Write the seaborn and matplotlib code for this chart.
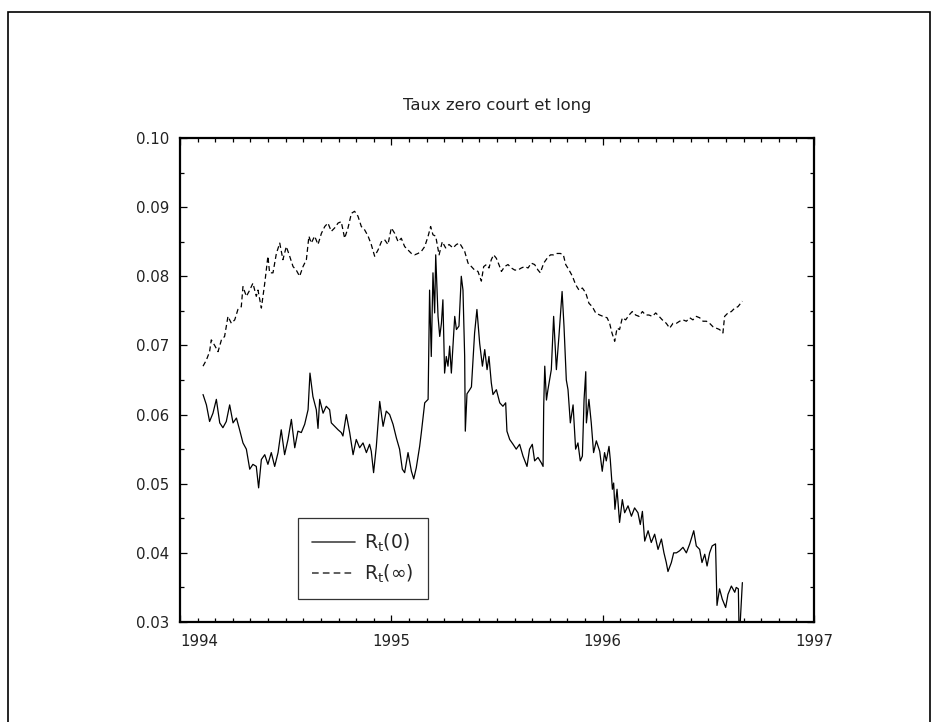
import numpy as np
import pandas as pd
import seaborn as sns
import matplotlib
matplotlib.use("Agg")
import matplotlib.pyplot as plt
from matplotlib.ticker import MultipleLocator, FormatStrFormatter
from matplotlib.patches import Rectangle

# Short rate R_t(0): dates in decimal years, rates
short_t = [
    1994.109, 1994.125, 1994.140, 1994.156, 1994.172, 1994.188, 1994.203, 1994.219,
    1994.235, 1994.251, 1994.267, 1994.282, 1994.298, 1994.314, 1994.330, 1994.345,
    1994.361, 1994.372, 1994.385, 1994.401, 1994.416, 1994.432, 1994.448, 1994.464,
    1994.479, 1994.495, 1994.511, 1994.527, 1994.543, 1994.558, 1994.574, 1994.590,
    1994.606, 1994.615, 1994.629, 1994.645, 1994.653, 1994.661, 1994.677, 1994.692,
    1994.708, 1994.716, 1994.732, 1994.748, 1994.763, 1994.771, 1994.787, 1994.803,
    1994.819, 1994.834, 1994.850, 1994.866, 1994.882, 1994.897, 1994.905, 1994.916,
    1994.929, 1994.945, 1994.961, 1994.976, 1994.992, 1995.008, 1995.024, 1995.039,
    1995.052, 1995.063, 1995.079, 1995.095, 1995.106, 1995.118, 1995.134, 1995.142,
    1995.158, 1995.174, 1995.181, 1995.189, 1995.197, 1995.205, 1995.210, 1995.221,
    1995.229, 1995.237, 1995.244, 1995.252, 1995.260, 1995.268, 1995.276, 1995.284,
    1995.300, 1995.308, 1995.320, 1995.331, 1995.339, 1995.347, 1995.350, 1995.358,
    1995.371, 1995.379, 1995.394, 1995.405, 1995.418, 1995.431, 1995.442, 1995.453,
    1995.462, 1995.473, 1995.481, 1995.497, 1995.513, 1995.528, 1995.541, 1995.547,
    1995.560, 1995.576, 1995.591, 1995.607, 1995.623, 1995.642, 1995.654, 1995.667,
    1995.678, 1995.694, 1995.710, 1995.718, 1995.721, 1995.726, 1995.734, 1995.741,
    1995.757, 1995.768, 1995.781, 1995.793, 1995.808, 1995.817, 1995.828, 1995.836,
    1995.847, 1995.860, 1995.872, 1995.883, 1995.894, 1995.904, 1995.912, 1995.920,
    1995.923, 1995.935, 1995.946, 1995.957, 1995.970, 1995.986, 1995.998, 1996.009,
    1996.017, 1996.030, 1996.036, 1996.046, 1996.052, 1996.058, 1996.068, 1996.080,
    1996.093, 1996.104, 1996.120, 1996.136, 1996.151, 1996.167, 1996.178, 1996.188,
    1996.199, 1996.215, 1996.230, 1996.246, 1996.262, 1996.278, 1996.290, 1996.301,
    1996.309, 1996.325, 1996.336, 1996.349, 1996.364, 1996.380, 1996.396, 1996.412,
    1996.431, 1996.443, 1996.459, 1996.470, 1996.483, 1996.494, 1996.506, 1996.518,
    1996.534, 1996.541, 1996.553, 1996.566, 1996.582, 1996.593, 1996.609, 1996.625,
    1996.632, 1996.642, 1996.645, 1996.651, 1996.661,
]
short_rate = [
    0.0629, 0.0614, 0.0590, 0.0602, 0.0622, 0.0588, 0.0581, 0.0590,
    0.0614, 0.0588, 0.0595, 0.0578, 0.0559, 0.0550, 0.0521, 0.0528,
    0.0525, 0.0494, 0.0535, 0.0542, 0.0528, 0.0545, 0.0525, 0.0545,
    0.0578, 0.0542, 0.0564, 0.0593, 0.0552, 0.0576, 0.0574, 0.0586,
    0.0607, 0.0660, 0.0626, 0.0607, 0.0580, 0.0622, 0.0602, 0.0612,
    0.0607, 0.0588, 0.0583, 0.0578, 0.0574, 0.0569, 0.0600, 0.0574,
    0.0542, 0.0564, 0.0552, 0.0559, 0.0545, 0.0557, 0.0547, 0.0516,
    0.0554, 0.0619, 0.0583, 0.0605, 0.0600, 0.0586, 0.0566, 0.0550,
    0.0521, 0.0516, 0.0545, 0.0518, 0.0507, 0.0523, 0.0554, 0.0574,
    0.0617, 0.0622, 0.0780, 0.0684, 0.0805, 0.0747, 0.0831, 0.0742,
    0.0713, 0.0732, 0.0766, 0.0660, 0.0684, 0.0670, 0.0699, 0.0660,
    0.0742, 0.0723, 0.0728, 0.0800, 0.0780, 0.0684, 0.0576, 0.0630,
    0.0636, 0.0640, 0.0718, 0.0752, 0.0703, 0.0670, 0.0694, 0.0665,
    0.0684, 0.0646, 0.0629, 0.0636, 0.0617, 0.0612, 0.0617, 0.0576,
    0.0564, 0.0557, 0.0550, 0.0557, 0.0540, 0.0525, 0.0550, 0.0557,
    0.0533, 0.0538, 0.0530, 0.0525, 0.0612, 0.0670, 0.0621, 0.0636,
    0.0665, 0.0742, 0.0665, 0.0713, 0.0778, 0.0728, 0.0650, 0.0636,
    0.0588, 0.0614, 0.0550, 0.0559, 0.0533, 0.0540, 0.0622, 0.0662,
    0.0588, 0.0622, 0.0588, 0.0545, 0.0562, 0.0547, 0.0518, 0.0545,
    0.0533, 0.0554, 0.0535, 0.0492, 0.0501, 0.0463, 0.0492, 0.0444,
    0.0477, 0.0458, 0.0468, 0.0453, 0.0465, 0.0458, 0.0441, 0.0460,
    0.0417, 0.0432, 0.0415, 0.0427, 0.0405, 0.0420, 0.0400, 0.0386,
    0.0373, 0.0386, 0.0400, 0.0400, 0.0403, 0.0408, 0.0400, 0.0413,
    0.0432, 0.0410, 0.0405, 0.0386, 0.0398, 0.0381, 0.0400, 0.0410,
    0.0413, 0.0324, 0.0348, 0.0333, 0.0321, 0.0340, 0.0352, 0.0343,
    0.0350, 0.0348, 0.0295, 0.0300, 0.0357,
]

# Long rate R_t(inf)
long_t = [
    1994.109, 1994.125, 1994.140, 1994.148, 1994.164, 1994.180, 1994.196, 1994.211,
    1994.227, 1994.243, 1994.259, 1994.274, 1994.290, 1994.298, 1994.314, 1994.330,
    1994.345, 1994.361, 1994.369, 1994.385, 1994.401, 1994.416, 1994.424, 1994.440,
    1994.456, 1994.472, 1994.487, 1994.503, 1994.519, 1994.535, 1994.550, 1994.566,
    1994.582, 1994.598, 1994.610, 1994.621, 1994.637, 1994.653, 1994.669, 1994.685,
    1994.700, 1994.716, 1994.732, 1994.748, 1994.763, 1994.779, 1994.795, 1994.811,
    1994.826, 1994.842, 1994.858, 1994.874, 1994.890, 1994.905, 1994.921, 1994.937,
    1994.953, 1994.968, 1994.984, 1995.000, 1995.016, 1995.032, 1995.047, 1995.063,
    1995.079, 1995.095, 1995.110, 1995.126, 1995.142, 1995.158, 1995.174, 1995.186,
    1995.197, 1995.210, 1995.226, 1995.241, 1995.257, 1995.273, 1995.292, 1995.308,
    1995.323, 1995.347, 1995.363, 1995.379, 1995.394, 1995.410, 1995.426, 1995.437,
    1995.450, 1995.462, 1995.473, 1995.484, 1995.497, 1995.509, 1995.521, 1995.536,
    1995.552, 1995.568, 1995.584, 1995.599, 1995.615, 1995.631, 1995.647, 1995.662,
    1995.678, 1995.694, 1995.705, 1995.721, 1995.737, 1995.753, 1995.768, 1995.784,
    1995.800, 1995.814, 1995.825, 1995.841, 1995.857, 1995.872, 1995.888, 1995.904,
    1995.920, 1995.935, 1995.951, 1995.967, 1995.986, 1996.002, 1996.021, 1996.033,
    1996.044, 1996.057, 1996.068, 1996.080, 1996.093, 1996.109, 1996.125, 1996.140,
    1996.156, 1996.172, 1996.188, 1996.203, 1996.219, 1996.235, 1996.251, 1996.267,
    1996.282, 1996.301, 1996.317, 1996.333, 1996.349, 1996.364, 1996.380, 1996.396,
    1996.412, 1996.427, 1996.443, 1996.459, 1996.475, 1996.491, 1996.506, 1996.522,
    1996.538, 1996.553, 1996.569, 1996.577, 1996.593, 1996.609, 1996.625, 1996.640,
    1996.661,
]
long_rate = [
    0.0670, 0.0679, 0.0691, 0.0708, 0.0700, 0.0691, 0.0708, 0.0713,
    0.0742, 0.0732, 0.0737, 0.0752, 0.0756, 0.0785, 0.0771, 0.0780,
    0.0790, 0.0771, 0.0780, 0.0754, 0.0790, 0.0829, 0.0805, 0.0805,
    0.0833, 0.0848, 0.0824, 0.0843, 0.0829, 0.0814, 0.0809, 0.0800,
    0.0814, 0.0824, 0.0858, 0.0848, 0.0858, 0.0846, 0.0862, 0.0872,
    0.0877, 0.0865, 0.0870, 0.0877, 0.0879, 0.0855, 0.0870, 0.0891,
    0.0894, 0.0887, 0.0872, 0.0867, 0.0858, 0.0846, 0.0829, 0.0838,
    0.0850, 0.0853, 0.0846, 0.0870, 0.0862, 0.0850, 0.0855, 0.0843,
    0.0838, 0.0833, 0.0831, 0.0833, 0.0836, 0.0843, 0.0858, 0.0872,
    0.0860, 0.0858, 0.0831, 0.0850, 0.0841, 0.0846, 0.0841, 0.0846,
    0.0848, 0.0836, 0.0819, 0.0814, 0.0809, 0.0807, 0.0793, 0.0814,
    0.0817, 0.0812, 0.0824, 0.0831, 0.0826, 0.0817, 0.0807, 0.0814,
    0.0817, 0.0812, 0.0809, 0.0809, 0.0812, 0.0814, 0.0812, 0.0819,
    0.0817, 0.0809, 0.0805, 0.0819, 0.0826, 0.0831, 0.0831, 0.0833,
    0.0833, 0.0831, 0.0817, 0.0809, 0.0800, 0.0788, 0.0780, 0.0783,
    0.0776, 0.0761, 0.0756, 0.0747, 0.0744, 0.0742, 0.0740, 0.0732,
    0.0718, 0.0706, 0.0725, 0.0723, 0.0740, 0.0737, 0.0744, 0.0749,
    0.0744, 0.0742, 0.0749, 0.0744, 0.0744, 0.0742, 0.0747, 0.0742,
    0.0737, 0.0732, 0.0725, 0.0732, 0.0732, 0.0735, 0.0737, 0.0735,
    0.0740, 0.0737, 0.0742, 0.0740, 0.0735, 0.0735, 0.0732, 0.0727,
    0.0725, 0.0723, 0.0718, 0.0742, 0.0747, 0.0749, 0.0754, 0.0756,
    0.0764,
]

title = "Taux zero court et long"
label_short = r"$\mathregular{R_t(0)}$"
label_long = r"$\mathregular{R_t(\infty)}$"
year_ticks = [1994, 1995, 1996, 1997]

sns.set_theme(style="white")
plt.rcParams["font.family"] = ["DejaVu Sans"]
plt.rcParams["mathtext.fontset"] = "dejavusans"

fig = plt.figure(figsize=(9.36, 7.22), dpi=100)
ax = fig.add_axes([180 / 936, 100 / 722, 634 / 936, 484 / 722])

short_df = pd.DataFrame({"date": short_t, "rate": short_rate})
long_df = pd.DataFrame({"date": long_t, "rate": long_rate})

sns.lineplot(data=short_df, x="date", y="rate", ax=ax, color="black",
             linewidth=0.9, estimator=None, sort=False, label=label_short)
sns.lineplot(data=long_df, x="date", y="rate", ax=ax, color="black",
             linewidth=0.9, estimator=None, sort=False, label=label_long,
             dashes=False)
ax.lines[1].set_dashes([4, 2.5])

ax.set_xlim(1994, 1997)
ax.set_ylim(0.03, 0.10)
ax.set_xticks(year_ticks)
ax.xaxis.set_major_formatter(FormatStrFormatter("%d"))
ax.xaxis.set_minor_locator(MultipleLocator(1 / 12))
ax.yaxis.set_major_locator(MultipleLocator(0.01))
ax.yaxis.set_minor_locator(MultipleLocator(0.005))
ax.yaxis.set_major_formatter(FormatStrFormatter("%.2f"))
ax.set_xlabel("")
ax.set_ylabel("")

for side in ax.spines.values():
    side.set_linewidth(1.6)
    side.set_color("black")

ax.tick_params(which="both", direction="in", top=True, right=True,
               bottom=True, left=True, color="black")
ax.tick_params(which="major", length=5, width=0.9, labelsize=10.8,
               labelcolor="#222222")
ax.tick_params(axis="x", which="major", pad=9)
ax.tick_params(axis="y", which="major", pad=8)
ax.tick_params(which="minor", length=3, width=0.9)

fig.canvas.draw()
ax.get_xticklabels()[0].set_horizontalalignment("left")

ax.set_title(title, fontsize=11.8, color="#222222", pad=20)

leg = ax.legend(loc="upper left", bbox_to_anchor=(0.186, 0.215),
                fontsize=13.5, frameon=True, fancybox=False, shadow=False,
                handlelength=2.3, handletextpad=0.5, borderpad=0.75,
                labelspacing=0.45, borderaxespad=0)
leg.get_frame().set_edgecolor("black")
leg.get_frame().set_linewidth(0.9)
for h in leg.get_lines():
    h.set_color("#444444")
    h.set_linewidth(1.2)

# Outer border around the page
fig.patches.append(Rectangle((8 / 936, -0.05), (930 - 8) / 936, 1 - 12 / 722 + 0.05,
                             transform=fig.transFigure, fill=False,
                             edgecolor="black", linewidth=1.2))

fig.savefig("out.png", dpi=100)
